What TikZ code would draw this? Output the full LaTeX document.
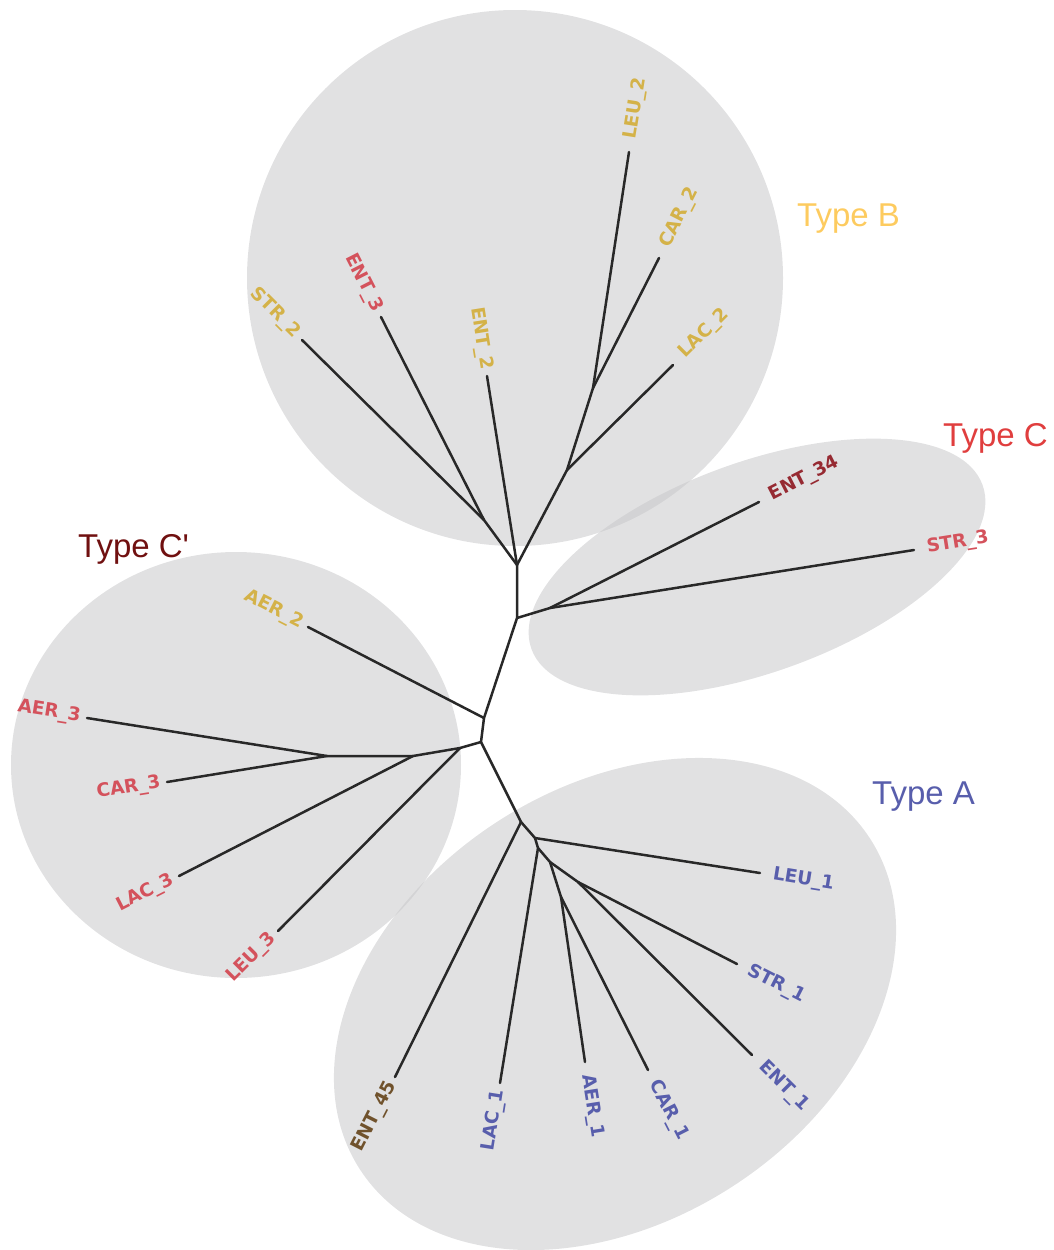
\documentclass[tikz,border=0pt]{standalone}
\usepackage{fontspec}
\setmainfont{Liberation Sans}
\newfontfamily\leaffont{DejaVu Sans}
\usepackage{tikz}
\definecolor{blobgray}{RGB}{198,198,200}
\definecolor{branchgray}{RGB}{40,40,40}
\definecolor{typeA}{RGB}{88,94,172}
\definecolor{typeB}{RGB}{253,203,95}
\definecolor{typeC}{RGB}{224,62,62}
\definecolor{typeCp}{RGB}{112,16,16}
\definecolor{leafB}{RGB}{212,178,72}
\definecolor{leafC}{RGB}{212,82,92}
\definecolor{leafCd}{RGB}{150,42,50}
\definecolor{leafA}{RGB}{88,94,172}
\definecolor{leafX}{RGB}{112,82,44}

\begin{document}
\begin{tikzpicture}[x=1pt, y=-1pt,
  blob/.style={fill=blobgray, fill opacity=0.52},
  branch/.style={draw=branchgray, line width=2.5pt, line cap=round, line join=round},
  leaf/.style={font=\leaffont\bfseries\fontsize{18.5}{20}\selectfont, inner ysep=3pt},
  lleaf/.style={leaf, anchor=east, inner xsep=6.5pt},
  rleaf/.style={leaf, anchor=west, inner xsep=13pt},
  typelabel/.style={font=\fontsize{33}{38}\selectfont, anchor=base west, inner sep=0pt}
]
\useasboundingbox (0,0) rectangle (1053,1250);

\fill[blob] (515,278) circle[radius=268];
\fill[blob, rotate around={20:(757,567)}] (757,567) ellipse[x radius=240, y radius=105];
\fill[blob] (236,765) ellipse[x radius=225, y radius=213];
\fill[blob, rotate around={33:(615,1004)}] (615,1004) ellipse[x radius=304, y radius=217];

\node[typelabel, text=typeB] (tB) at (797,226) {Type B};
\node[typelabel, text=typeC] (tC) at (943,446) {Type C};
\node[typelabel, text=typeCp] (tCp) at (78,557) {Type C\textquotesingle};
\node[typelabel, text=typeA] (tA) at (872,804) {Type A};

\coordinate (b0) at (517,565);
\coordinate (b1) at (484,520);
\coordinate (b2) at (567,470);
\coordinate (b3) at (593,388);
\coordinate (c0) at (517,618);
\coordinate (c1) at (550,608);
\coordinate (m0) at (484,718);
\coordinate (m1) at (481,742);
\coordinate (p0) at (460,748);
\coordinate (p1) at (413,756);
\coordinate (p2) at (327,756);
\coordinate (a0) at (521,822);
\coordinate (a1) at (535,838);
\coordinate (a2) at (538,848);
\coordinate (a3) at (550,862);
\coordinate (a4) at (561,897);
\coordinate (a5) at (578,882);

\node[rleaf, text=leafC,  rotate=9]   (str3)  at (914,550)  {STR\_3};
\node[rleaf, text=leafCd, rotate=27]  (ent34) at (759,502)  {ENT\_34};
\node[rleaf, text=leafB,  rotate=45]  (lac2)  at (673,365)  {LAC\_2};
\node[rleaf, text=leafB,  rotate=63]  (car2)  at (659,258)  {CAR\_2};
\node[rleaf, text=leafB,  rotate=81]  (leu2)  at (629,152)  {LEU\_2};
\node[lleaf, text=leafB,  rotate=-81] (ent2)  at (487,376)  {ENT\_2};
\node[lleaf, text=leafC,  rotate=-63] (ent3)  at (381,317)  {ENT\_3};
\node[lleaf, text=leafB,  rotate=-45] (str2)  at (302,340)  {STR\_2};
\node[lleaf, text=leafB,  rotate=-27] (aer2)  at (308,627)  {AER\_2};
\node[lleaf, text=leafC,  rotate=-9]  (aer3)  at (87,718)   {AER\_3};
\node[lleaf, text=leafC,  rotate=9]   (car3)  at (167,782)  {CAR\_3};
\node[lleaf, text=leafC,  rotate=27]  (lac3)  at (179,876)  {LAC\_3};
\node[lleaf, text=leafC,  rotate=45]  (leu3)  at (278,931)  {LEU\_3};
\node[lleaf, text=leafX,  rotate=63]  (ent45) at (395,1077) {ENT\_45};
\node[lleaf, text=leafA,  rotate=81]  (lac1)  at (500,1083) {LAC\_1};
\node[rleaf, text=leafA,  rotate=-81] (aer1)  at (585,1062) {AER\_1};
\node[rleaf, text=leafA,  rotate=-63] (car1)  at (648,1070) {CAR\_1};
\node[rleaf, text=leafA,  rotate=-45] (ent1)  at (752,1055) {ENT\_1};
\node[rleaf, text=leafA,  rotate=-27] (str1)  at (737,964)  {STR\_1};
\node[rleaf, text=leafA,  rotate=-9]  (leu1)  at (760,873)  {LEU\_1};

\draw[branch] (b0) -- (c0) -- (m0) -- (m1) -- (a0);
\draw[branch] (m1) -- (p0) -- (p1) -- (p2);
\draw[branch] (b0) -- (b1) -- (str2.east);
\draw[branch] (b1) -- (ent3.east);
\draw[branch] (b0) -- (ent2.east);
\draw[branch] (b0) -- (b2) -- (b3) -- (leu2.west);
\draw[branch] (b3) -- (car2.west);
\draw[branch] (b2) -- (lac2.west);
\draw[branch] (c0) -- (c1) -- (ent34.west);
\draw[branch] (c1) -- (str3.west);
\draw[branch] (m0) -- (aer2.east);
\draw[branch] (p0) -- (leu3.east);
\draw[branch] (p1) -- (lac3.east);
\draw[branch] (p2) -- (aer3.east);
\draw[branch] (p2) -- (car3.east);
\draw[branch] (a0) -- (ent45.east);
\draw[branch] (a0) -- (a1) -- (leu1.west);
\draw[branch] (a1) -- (a2) -- (lac1.east);
\draw[branch] (a2) -- (a3) -- (a4) -- (aer1.west);
\draw[branch] (a4) -- (car1.west);
\draw[branch] (a3) -- (a5) -- (str1.west);
\draw[branch] (a5) -- (ent1.west);
\end{tikzpicture}
\end{document}
